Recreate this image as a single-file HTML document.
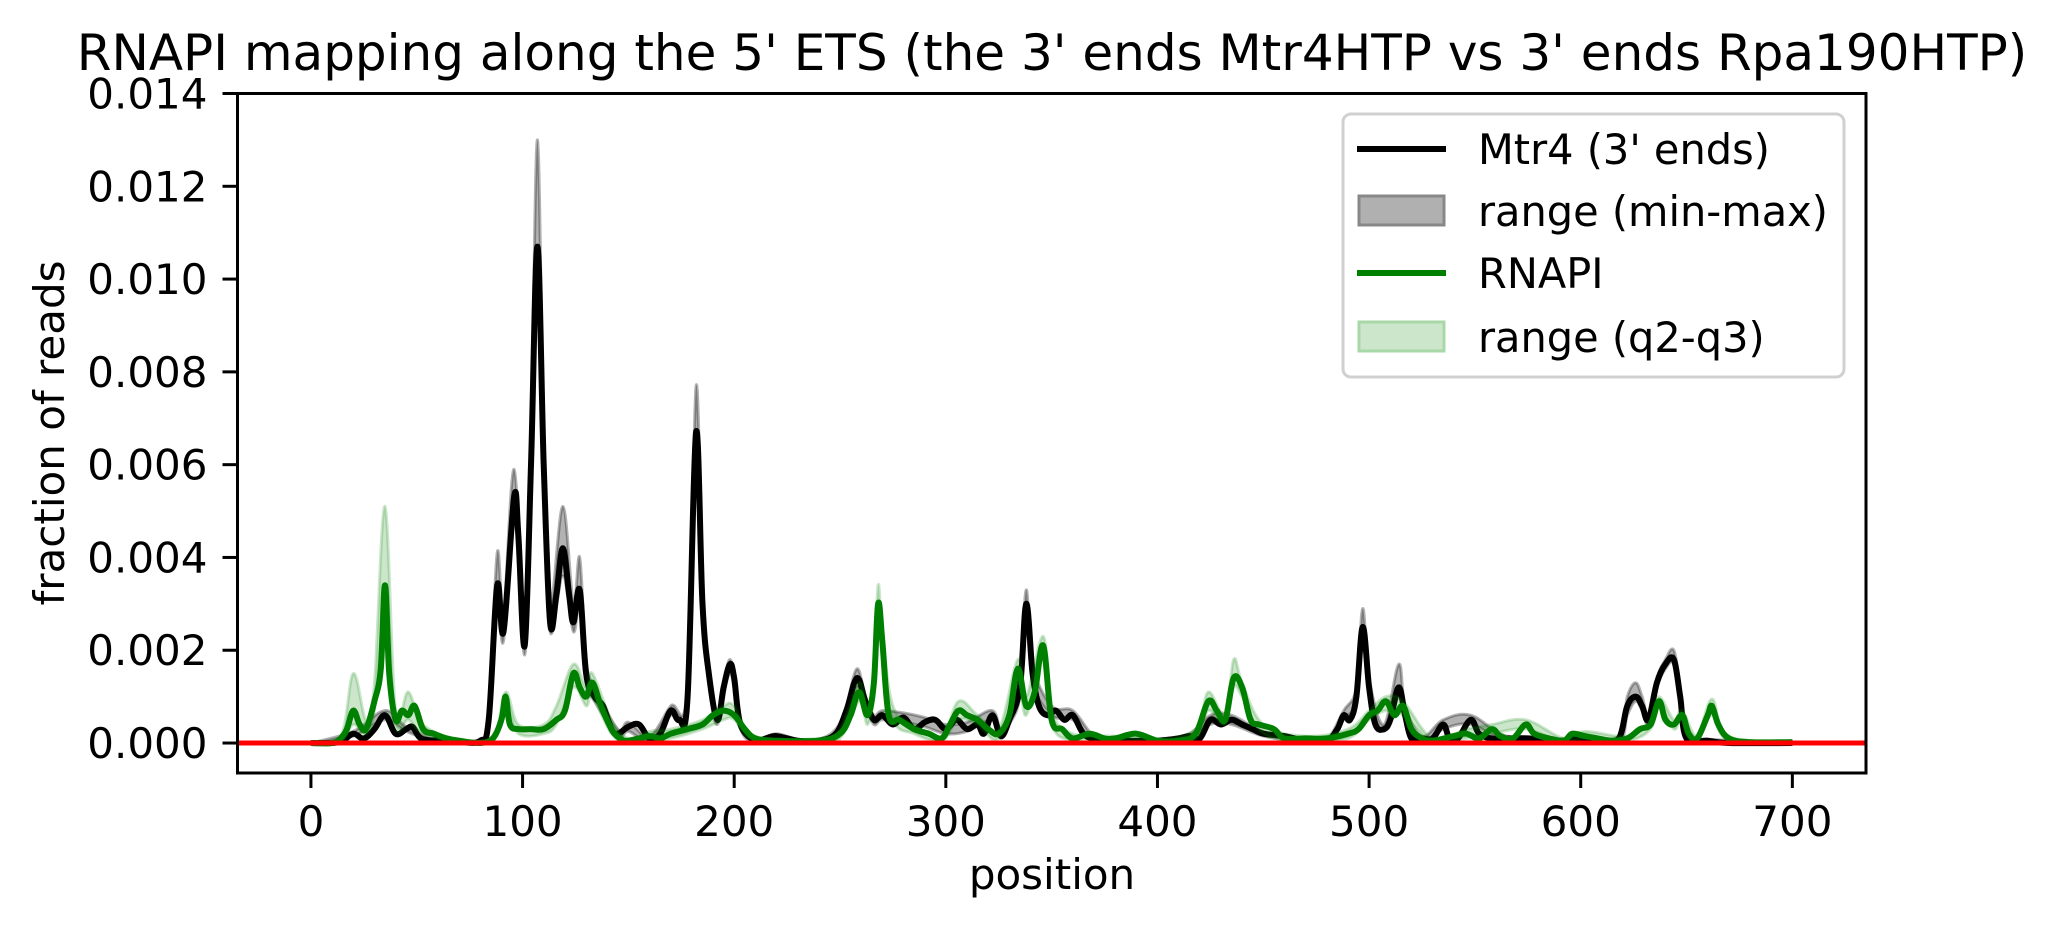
<!DOCTYPE html>
<html><head><meta charset="utf-8">
<style>
html,body{margin:0;padding:0;background:#fff;}
svg{display:block;font-family:"DejaVu Sans","Liberation Sans",sans-serif;}
</style></head>
<body>
<svg id="chart" width="2055" height="932" viewBox="0 0 2055 932" xmlns="http://www.w3.org/2000/svg">
<rect x="0" y="0" width="2055" height="932" fill="#fff"/>
<text x="1052" y="70" font-size="50" text-anchor="middle">RNAPI mapping along the 5' ETS (the 3' ends Mtr4HTP vs 3' ends Rpa190HTP)</text>
<g id="plot"></g>
<g id="axes"></g>
<text x="1052" y="889" font-size="42" text-anchor="middle">position</text>
<text transform="translate(64,433) rotate(-90)" font-size="42" text-anchor="middle">fraction of reads</text>
<g>
<rect x="1343" y="114" width="501" height="263" rx="8" fill="#fff" fill-opacity="0.8" stroke="#d0d0d0" stroke-width="3"/>
<line x1="1357" y1="149" x2="1446" y2="149" stroke="#000" stroke-width="6"/>
<text x="1478" y="164" font-size="41.5">Mtr4 (3' ends)</text>
<rect x="1359" y="196" width="85" height="29" fill="#b0b0b0" stroke="#888" stroke-width="3"/>
<text x="1478" y="226" font-size="41.5">range (min-max)</text>
<line x1="1357" y1="273" x2="1446" y2="273" stroke="#008000" stroke-width="6"/>
<text x="1478" y="288" font-size="41.5">RNAPI</text>
<rect x="1359" y="322" width="85" height="29" fill="#cce6cc" stroke="#a8d8a8" stroke-width="3"/>
<text x="1478" y="352" font-size="41.5">range (q2-q3)</text>
</g>
</svg>
<script>
// values in units of 1e-3 (fraction of reads)
const mtr4Positions=[0,10,15,20,25,30,35,40,45,48,52,60,70,80,84,88,91,96,98,101,104,107,110,113,116,119,122,124,127,130,134,138,142,145,150,155,160,165,170,174,178,182,185,188,192,195,198,200,203,210,215,220,230,240,248,253,258,262,266,270,275,280,285,290,295,300,305,310,315,318,322,326,330,335,338,341,344,348,352,356,360,365,370,380,390,400,410,415,420,425,430,435,440,445,450,460,470,480,485,488,491,494,497,500,503,507,510,514,517,520,525,530,535,538,542,548,552,558,565,575,590,600,610,618,622,626,629,632,636,640,644,647,650,660,670,700];
const mtr4ValuesE3=[0,0,0.05,0.2,0.1,0.3,0.6,0.2,0.3,0.35,0.1,0.05,0.02,0.05,0.5,3.4,2.4,5.3,4.5,2.1,6,10.7,6,2.6,3.2,4.2,3.2,2.6,3.3,1.5,1.0,0.8,0.3,0.2,0.35,0.4,0.1,0.2,0.7,0.5,1.0,6.7,3,1.5,0.5,1.2,1.7,1.4,0.4,0.05,0.1,0.15,0.05,0.05,0.2,0.7,1.4,0.9,0.5,0.6,0.4,0.55,0.3,0.45,0.5,0.3,0.5,0.3,0.4,0.2,0.6,0.15,0.5,1.2,3.0,1.5,0.8,0.6,0.7,0.5,0.6,0.2,0.1,0.05,0.05,0.05,0.1,0.15,0.1,0.5,0.4,0.5,0.4,0.3,0.2,0.15,0.05,0.05,0.3,0.6,0.5,1.0,2.5,1.2,0.4,0.3,0.5,1.2,0.6,0.1,0.1,0.1,0.4,0.1,0.1,0.5,0.2,0.1,0.1,0.1,0.05,0.1,0.05,0.1,0.8,1.0,0.8,0.5,1.3,1.7,1.8,1.0,0.1,0.05,0,0];
const rnapiPositions=[0,10,14,17,20,23,26,30,33,35,37,40,43,46,49,53,58,64,70,80,86,90,92,94,98,104,110,116,120,124,127,130,133,137,142,146,150,160,165,170,178,185,190,195,200,205,210,220,240,250,255,259,263,266,268,270,273,278,285,292,298,302,306,310,315,320,325,330,334,338,342,346,350,355,360,368,375,380,390,400,410,418,424,428,432,436,440,444,448,455,460,470,480,490,495,500,504,508,512,516,520,525,530,540,546,552,558,562,568,574,578,585,592,596,602,608,615,622,628,633,637,640,644,648,651,655,660,662,665,670,680,700];
const rnapiValuesE3=[0,0,0.1,0.3,0.7,0.4,0.3,0.9,1.6,3.4,1.5,0.5,0.7,0.6,0.8,0.3,0.2,0.1,0.05,0,0.1,0.5,1.0,0.4,0.3,0.3,0.3,0.5,0.7,1.5,1.2,1.0,1.3,0.8,0.3,0.1,0.05,0.15,0.1,0.2,0.3,0.4,0.6,0.7,0.6,0.3,0.1,0.05,0.05,0.2,0.6,1.1,0.6,1.3,3.0,2.2,0.6,0.5,0.3,0.2,0.1,0.4,0.7,0.6,0.5,0.3,0.2,0.6,1.6,0.8,1.1,2.1,0.5,0.3,0.1,0.2,0.1,0.1,0.2,0.05,0.05,0.2,0.9,0.7,0.5,1.4,1.2,0.5,0.4,0.3,0.1,0.1,0.1,0.2,0.3,0.6,0.7,0.9,0.6,0.8,0.3,0.1,0.05,0.15,0.2,0.1,0.3,0.15,0.1,0.4,0.2,0.1,0.05,0.2,0.15,0.1,0.05,0.1,0.3,0.4,0.9,0.5,0.4,0.6,0.2,0.1,0.6,0.8,0.4,0.1,0.02,0.02];
const mtr4BandPositions=[0,20,35,45,60,80,84,88,91,96,101,104,107,110,113,119,124,127,130,134,145,150,160,170,178,182,185,188,192,198,203,210,220,230,240,248,253,258,262,266,270,280,290,300,310,322,326,330,335,338,341,350,360,370,380,400,415,425,435,450,470,480,488,494,497,500,507,514,517,525,535,548,565,590,600,618,622,626,629,632,636,640,644,647,650,660,700];
const mtr4MaxE3=[0,0.25,0.7,0.35,0.08,0.06,0.6,4.1,2.8,5.9,2.5,6.5,13.0,6.5,3.0,5.1,3.0,4.0,1.8,1.2,0.3,0.45,0.15,0.8,1.2,7.7,3.3,1.7,0.6,1.8,0.5,0.1,0.2,0.08,0.08,0.3,0.8,1.6,1.0,0.6,0.7,0.65,0.55,0.4,0.45,0.7,0.25,0.6,1.4,3.3,1.7,0.8,0.7,0.15,0.08,0.08,0.2,0.6,0.6,0.25,0.08,0.08,0.7,1.2,2.9,1.4,0.4,1.7,0.8,0.15,0.5,0.6,0.15,0.08,0.12,0.15,1.0,1.3,1.0,0.6,1.4,1.8,2.0,1.2,0.15,0.08,0];
const mtr4MinE3=[0,0.15,0.5,0.25,0.03,0.02,0.4,3.0,2.2,4.9,1.9,5.5,9.7,5.5,2.4,3.6,2.4,3.0,1.3,0.9,0.15,0.25,0.05,0.6,0.9,6.2,2.7,1.3,0.4,1.5,0.3,0.02,0.1,0.02,0.02,0.1,0.6,1.2,0.8,0.4,0.5,0.45,0.35,0.2,0.25,0.5,0.1,0.4,1.0,2.7,1.3,0.6,0.5,0.05,0.02,0.02,0.1,0.4,0.4,0.15,0.02,0.02,0.5,0.9,2.3,1.0,0.25,1.0,0.5,0.05,0.3,0.4,0.05,0.02,0.08,0.05,0.6,0.9,0.7,0.4,1.2,1.6,1.7,0.9,0.05,0.02,0];
const rnapiBandPositions=[0,14,20,26,30,35,40,46,53,70,86,92,98,110,116,124,130,133,142,150,160,170,185,195,200,210,240,250,259,263,266,268,270,275,285,298,306,315,325,334,338,346,350,360,380,400,418,424,432,436,440,450,470,490,500,508,516,530,546,558,574,592,602,622,633,637,644,648,655,662,670,700];
const rnapiQ3E3=[0,0.15,1.5,0.5,1.3,5.1,0.7,1.1,0.4,0.08,0.15,1.1,0.4,0.4,0.8,1.7,1.2,1.5,0.5,0.1,0.25,0.3,0.5,0.8,0.8,0.15,0.1,0.3,1.3,0.8,1.5,3.4,2.4,0.8,0.4,0.15,0.9,0.6,0.3,1.8,1.0,2.3,0.7,0.2,0.15,0.08,0.3,1.1,0.6,1.8,1.3,0.4,0.15,0.3,0.7,1.0,0.9,0.1,0.3,0.4,0.5,0.1,0.25,0.15,0.5,1.0,0.5,0.7,0.15,0.95,0.15,0.02];
const rnapiQ2E3=[0,0.05,0.4,0.2,0.7,2.8,0.4,0.5,0.2,0.02,0.05,0.8,0.2,0.2,0.4,1.2,0.8,1.0,0.2,0.02,0.08,0.1,0.3,0.5,0.5,0.05,0.02,0.1,0.9,0.4,1.1,2.6,1.9,0.5,0.2,0.05,0.5,0.4,0.1,1.3,0.6,1.8,0.4,0.05,0.05,0.02,0.1,0.7,0.4,1.2,1.0,0.2,0.05,0.1,0.5,0.7,0.6,0.03,0.1,0.2,0.3,0.02,0.1,0.05,0.3,0.8,0.3,0.5,0.05,0.6,0.05,0.01];
const xTicks=[0,100,200,300,400,500,600,700];
const yTicks=[0,0.002,0.004,0.006,0.008,0.010,0.012,0.014];
const yTickLabels=["0.000","0.002","0.004","0.006","0.008","0.010","0.012","0.014"];

const AX={l:237.5,r:1866,t:93.5,b:773};
const XMIN=-34.7,XMAX=734.8,YMIN=-0.000646,YMAX=0.014;
function sx(v){return AX.l+(v-XMIN)/(XMAX-XMIN)*(AX.r-AX.l);}
function sy(v){return AX.b-(v-YMIN)/(YMAX-YMIN)*(AX.b-AX.t);}
const NS="http://www.w3.org/2000/svg";
const plot=document.getElementById('plot');
const axes=document.getElementById('axes');
function mk(tag,attrs,parent){const e=document.createElementNS(NS,tag);for(const k in attrs)e.setAttribute(k,attrs[k]);parent.appendChild(e);return e;}
function pts(xs,ys){return xs.map((x,i)=>[sx(x),sy(ys[i]*0.001)]);}
function smooth(p,move){
  let d=move?('M'+p[0][0].toFixed(1)+','+p[0][1].toFixed(1)):('L'+p[0][0].toFixed(1)+','+p[0][1].toFixed(1));
  const k=0.35;
  for(let i=0;i<p.length-1;i++){
    const p0=p[i-1]||p[i],p1=p[i],p2=p[i+1],p3=p[i+2]||p[i+1];
    const c1=[p1[0]+(p2[0]-p0[0])*k/2,p1[1]+(p2[1]-p0[1])*k/2];
    const c2=[p2[0]-(p3[0]-p1[0])*k/2,p2[1]-(p3[1]-p1[1])*k/2];
    d+='C'+c1[0].toFixed(1)+','+c1[1].toFixed(1)+' '+c2[0].toFixed(1)+','+c2[1].toFixed(1)+' '+p2[0].toFixed(1)+','+p2[1].toFixed(1);
  }
  return d;
}
function bandPath(xs,hi,lo){
  const a=pts(xs,hi), b=pts(xs,lo).reverse();
  return smooth(a,true)+smooth(b,false)+'Z';
}
const cp=mk('clipPath',{id:'clip'},plot);
mk('rect',{x:AX.l,y:AX.t,width:AX.r-AX.l,height:AX.b-AX.t},cp);
const g=mk('g',{'clip-path':'url(#clip)'},plot);

const b1=mk('path',{d:bandPath(mtr4BandPositions,mtr4MaxE3,mtr4MinE3),fill:'#000','fill-opacity':0.3,stroke:'#000','stroke-opacity':0.3,'stroke-width':3},g);


const l1=mk('path',{d:smooth(pts(mtr4Positions,mtr4ValuesE3),true),fill:'none',stroke:'#000','stroke-width':6,'stroke-linejoin':'round'},g);


const b2=mk('path',{d:bandPath(rnapiBandPositions,rnapiQ3E3,rnapiQ2E3),fill:'#008000','fill-opacity':0.2,stroke:'#008000','stroke-opacity':0.2,'stroke-width':3},g);


const l2=mk('path',{d:smooth(pts(rnapiPositions,rnapiValuesE3),true),fill:'none',stroke:'#008000','stroke-width':6,'stroke-linejoin':'round'},g);


const zl=mk('line',{x1:AX.l,x2:AX.r,y1:sy(0),y2:sy(0),stroke:'#ff0000','stroke-width':5},g);



const fr=mk('rect',{x:AX.l,y:AX.t,width:AX.r-AX.l,height:AX.b-AX.t,fill:'none',stroke:'#000','stroke-width':3},axes);


xTicks.forEach(v=>{
  const t=mk('line',{x1:sx(v),x2:sx(v),y1:AX.b,y2:AX.b+15,stroke:'#000','stroke-width':3},axes);
  
  
  const tx=mk('text',{x:sx(v),y:836,'font-size':42,'text-anchor':'middle'},axes);
  tx.textContent=String(v);
  
  
});
yTicks.forEach((v,i)=>{
  const t=mk('line',{x1:AX.l-15,x2:AX.l,y1:sy(v),y2:sy(v),stroke:'#000','stroke-width':3},axes);
  
  
  const tx=mk('text',{x:AX.l-30,y:sy(v)+15,'font-size':42,'text-anchor':'end'},axes);
  tx.textContent=yTickLabels[i];
  
  
});
</script>
</body></html>
